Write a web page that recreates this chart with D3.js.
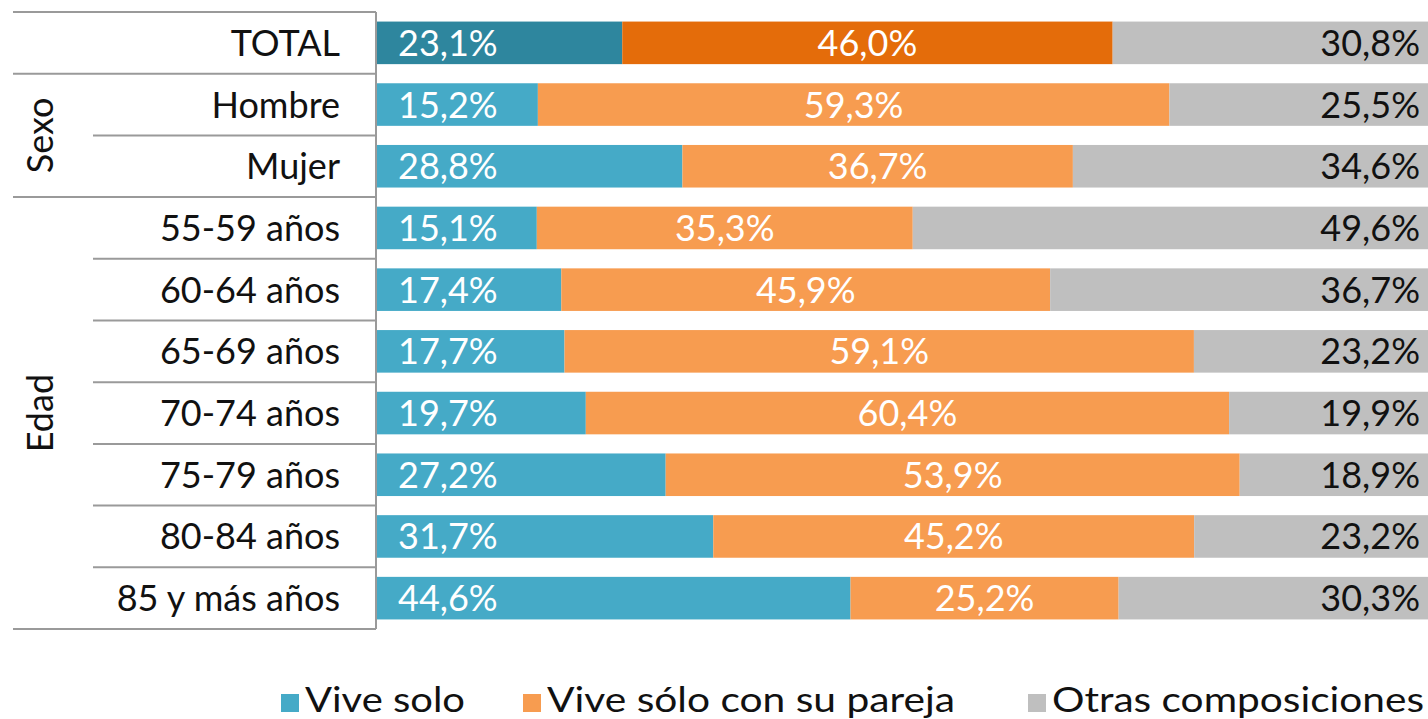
<!DOCTYPE html>
<html><head><meta charset="utf-8">
<script src="https://cdn.jsdelivr.net/npm/d3@7"></script>
<style>html,body{margin:0;padding:0;background:#fff;overflow:hidden;}svg{display:block;font-family:Lato, "Open Sans", sans-serif;}</style>
</head><body>
<svg id="c" width="1428" height="719"></svg>
<script>
const categories = ["TOTAL","Hombre","Mujer","55-59 años","60-64 años","65-69 años","70-74 años","75-79 años","80-84 años","85 y más años"];
const viveSolo   = [23.1,15.2,28.8,15.1,17.4,17.7,19.7,27.2,31.7,44.6];
const conPareja  = [46.0,59.3,36.7,35.3,45.9,59.1,60.4,53.9,45.2,25.2];
const otras      = [30.8,25.5,34.6,49.6,36.7,23.2,19.9,18.9,23.2,30.3];
const seriesNames = ["Vive solo","Vive sólo con su pareja","Otras composiciones"];
const groups = [{name:"Sexo", from:1, to:2},{name:"Edad", from:3, to:9}];

const colors = ["#45AAC7","#F79C50","#BFBFBF"];
const totalColors = ["#2E869E","#E46C0A","#BFBFBF"];
const labelColors = ["#fff","#fff","#111"];

const svg = d3.select("#c");
const x0 = 376, x1 = 1441, yTop = 12, yBot = 629;
const y = d3.scaleBand().domain(categories).range([yTop,yBot]).paddingInner(0.31).paddingOuter(0.155);
const step = y.step();
const fmt = v => v.toFixed(1).replace(".", ",") + "%";

const rows = categories.map((c,i) => {
  const vals = [viveSolo[i], conPareja[i], otras[i]];
  const sum = d3.sum(vals);
  const xs = d3.scaleLinear().domain([0,sum]).range([x0,x1]);
  let acc = 0;
  const segs = vals.map((v,k) => { const s = {k, v, a:acc, b:acc+v}; acc += v; return s; });
  return {c, i, xs, segs};
});

const fs = 36;
rows.forEach(r => {
  const g = svg.append("g");
  r.segs.forEach(s => {
    g.append("rect")
      .attr("x", r.xs(s.a)).attr("y", y(r.c))
      .attr("width", r.xs(s.b)-r.xs(s.a)).attr("height", y.bandwidth())
      .attr("fill", r.i===0 ? totalColors[s.k] : colors[s.k]);
    let tx, anchor;
    if (s.k===0){ tx = r.xs(s.a)+22; anchor="start"; }
    else if (s.k===1){ tx = (r.xs(s.a)+r.xs(s.b))/2; anchor="middle"; }
    else { tx = r.xs(s.b)-21; anchor="end"; }
    g.append("text").attr("x", tx).attr("y", y(r.c)+y.bandwidth()/2)
      .attr("dy","0.36em").attr("text-anchor",anchor)
      .attr("font-size",fs).attr("fill",labelColors[s.k]).text(fmt(s.v));
  });
  svg.append("text").attr("x",340).attr("y", y(r.c)+y.bandwidth()/2)
    .attr("dy","0.36em").attr("text-anchor","end").attr("font-size",fs).attr("fill","#111").text(r.c);
});

// table lines
const lineColor = "#9a9a9a";
const boundaries = d3.range(categories.length+1).map(i => yTop + i*step);
boundaries.forEach((yy,i) => {
  let startX = 13;
  groups.forEach(gr => { if (i>gr.from && i<=gr.to) startX = 93; });
  svg.append("line").attr("x1",startX).attr("x2",x0).attr("y1",yy).attr("y2",yy)
    .attr("stroke",lineColor).attr("stroke-width",2);
});
svg.append("line").attr("x1",x0).attr("x2",x0).attr("y1",yTop).attr("y2",yBot)
  .attr("stroke",lineColor).attr("stroke-width",2);

groups.forEach(gr => {
  const cy = (yTop + gr.from*step + yTop + (gr.to+1)*step)/2;
  svg.append("text").attr("transform",`translate(40,${cy}) rotate(-90)`)
    .attr("text-anchor","middle").attr("dy","0.36em").attr("font-size",fs).attr("fill","#111").text(gr.name);
});

// legend
const legX = [281, 523, 1028];
const legTextW = [160, 408, 372];
seriesNames.forEach((n,k) => {
  svg.append("rect").attr("x",legX[k]).attr("y",694).attr("width",18).attr("height",18).attr("fill",colors[k]);
  svg.append("text").attr("x",legX[k]+24).attr("y",700).attr("dy","0.36em")
    .attr("font-size",34).attr("fill","#111")
    .attr("textLength",legTextW[k]).attr("lengthAdjust","spacingAndGlyphs").text(n);
});
</script>
</body></html>
